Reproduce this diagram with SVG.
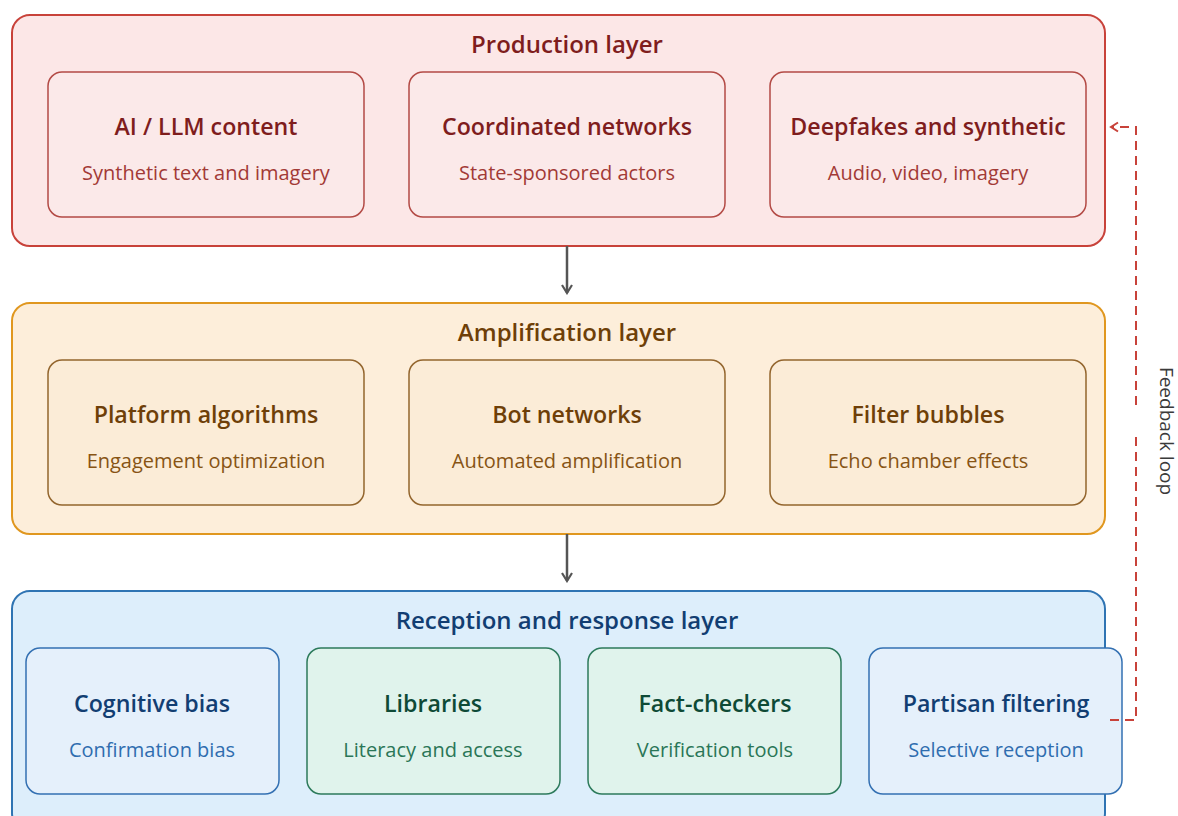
<svg xmlns="http://www.w3.org/2000/svg" width="1178" height="816" viewBox="0 0 1178 816">
  <defs>
    <style>
      text { font-family: "Open Sans", "Noto Sans", "Liberation Sans", sans-serif; text-anchor: middle; }
      .layer-title { font-size: 24px; font-weight: 600; }
      .card-title { font-size: 23.2px; font-weight: 600; }
      .card-sub { font-size: 20px; }
      .prod-layer { fill: #fce7e7; stroke: #c8423a; stroke-width: 2; }
      .prod-card { fill: #fbe9e9; stroke: #b34a45; stroke-width: 1.5; }
      .prod-t { fill: #7f1d1d; }
      .prod-s { fill: #a23a36; }
      .amp-layer { fill: #fdeeda; stroke: #e0971f; stroke-width: 2; }
      .amp-card { fill: #fbecd7; stroke: #93652d; stroke-width: 1.5; }
      .amp-t { fill: #6e3f08; }
      .amp-s { fill: #875414; }
      .rec-layer { fill: #ddeefb; stroke: #2f74b3; stroke-width: 2; }
      .blue-card { fill: #e5f0fb; stroke: #3370b2; stroke-width: 1.5; }
      .blue-t { fill: #123e72; }
      .blue-s { fill: #2f6daf; }
      .green-card { fill: #e0f3ec; stroke: #2c7a5b; stroke-width: 1.5; }
      .green-t { fill: #0e4a36; }
      .green-s { fill: #2a7657; }
      .flow { stroke: #555; stroke-width: 2.5; fill: none; }
      .feedback { stroke: #c8423a; stroke-width: 2; fill: none; stroke-dasharray: 9 6; }
    </style>
    <marker id="chev" viewBox="0 0 12 12" refX="10" refY="6" markerWidth="12" markerHeight="12" markerUnits="userSpaceOnUse" orient="auto">
      <path d="M2,1 L10,6 L2,11" fill="none" stroke="#555" stroke-width="2.2"/>
    </marker>
    <marker id="chev-red" viewBox="0 0 12 12" refX="10" refY="6" markerWidth="12" markerHeight="12" markerUnits="userSpaceOnUse" orient="auto">
      <path d="M3,1.5 L10,6 L3,10.5" fill="none" stroke="#c8423a" stroke-width="2"/>
    </marker>
  </defs>

  <!-- Production layer -->
  <g id="production-layer">
    <rect class="prod-layer" x="12" y="15" width="1093" height="231" rx="18"/>
    <text class="layer-title prod-t" x="567" y="53">Production layer</text>
  </g>
  <g id="ai-llm-content">
    <rect class="prod-card" x="48" y="72" width="316" height="145" rx="14"/>
    <text class="card-title prod-t" x="206" y="135">AI / LLM content</text>
    <text class="card-sub prod-s" x="206" y="180">Synthetic text and imagery</text>
  </g>
  <g id="coordinated-networks">
    <rect class="prod-card" x="409" y="72" width="316" height="145" rx="14"/>
    <text class="card-title prod-t" x="567" y="135">Coordinated networks</text>
    <text class="card-sub prod-s" x="567" y="180">State-sponsored actors</text>
  </g>
  <g id="deepfakes">
    <rect class="prod-card" x="770" y="72" width="316" height="145" rx="14"/>
    <text class="card-title prod-t" x="928" y="135">Deepfakes and synthetic</text>
    <text class="card-sub prod-s" x="928" y="180">Audio, video, imagery</text>
  </g>

  <!-- Amplification layer -->
  <g id="amplification-layer">
    <rect class="amp-layer" x="12" y="303" width="1093" height="231" rx="18"/>
    <text class="layer-title amp-t" x="567" y="341">Amplification layer</text>
  </g>
  <g id="platform-algorithms">
    <rect class="amp-card" x="48" y="360" width="316" height="145" rx="14"/>
    <text class="card-title amp-t" x="206" y="423">Platform algorithms</text>
    <text class="card-sub amp-s" x="206" y="468">Engagement optimization</text>
  </g>
  <g id="bot-networks">
    <rect class="amp-card" x="409" y="360" width="316" height="145" rx="14"/>
    <text class="card-title amp-t" x="567" y="423">Bot networks</text>
    <text class="card-sub amp-s" x="567" y="468">Automated amplification</text>
  </g>
  <g id="filter-bubbles">
    <rect class="amp-card" x="770" y="360" width="316" height="145" rx="14"/>
    <text class="card-title amp-t" x="928" y="423">Filter bubbles</text>
    <text class="card-sub amp-s" x="928" y="468">Echo chamber effects</text>
  </g>

  <!-- Reception and response layer -->
  <g id="reception-layer">
    <rect class="rec-layer" x="12" y="591" width="1093" height="240" rx="18"/>
    <text class="layer-title blue-t" x="567" y="629">Reception and response layer</text>
  </g>
  <g id="cognitive-bias">
    <rect class="blue-card" x="26" y="648" width="253" height="146" rx="14"/>
    <text class="card-title blue-t" x="152" y="712">Cognitive bias</text>
    <text class="card-sub blue-s" x="152" y="757">Confirmation bias</text>
  </g>
  <g id="libraries">
    <rect class="green-card" x="307" y="648" width="253" height="146" rx="14"/>
    <text class="card-title green-t" x="433" y="712">Libraries</text>
    <text class="card-sub green-s" x="433" y="757">Literacy and access</text>
  </g>
  <g id="fact-checkers">
    <rect class="green-card" x="588" y="648" width="253" height="146" rx="14"/>
    <text class="card-title green-t" x="715" y="712">Fact-checkers</text>
    <text class="card-sub green-s" x="715" y="757">Verification tools</text>
  </g>
  <g id="partisan-filtering">
    <rect class="blue-card" x="869" y="648" width="253" height="146" rx="14"/>
    <text class="card-title blue-t" x="996" y="712">Partisan filtering</text>
    <text class="card-sub blue-s" x="996" y="757">Selective reception</text>
  </g>

  <!-- Connectors -->
  <g id="connectors">
    <line class="flow" x1="567" y1="246" x2="567" y2="293" marker-end="url(#chev)"/>
    <line class="flow" x1="567" y1="534" x2="567" y2="581" marker-end="url(#chev)"/>
    <path class="feedback" d="M1110,720 H1136 V437"/>
    <path class="feedback" d="M1136,405 V127 H1111" marker-end="url(#chev-red)"/>
    <text x="1165" y="431" transform="rotate(90 1165 431)" style="font-size:19px; fill:#3a3a3a;" dominant-baseline="middle">Feedback loop</text>
  </g>
</svg>
